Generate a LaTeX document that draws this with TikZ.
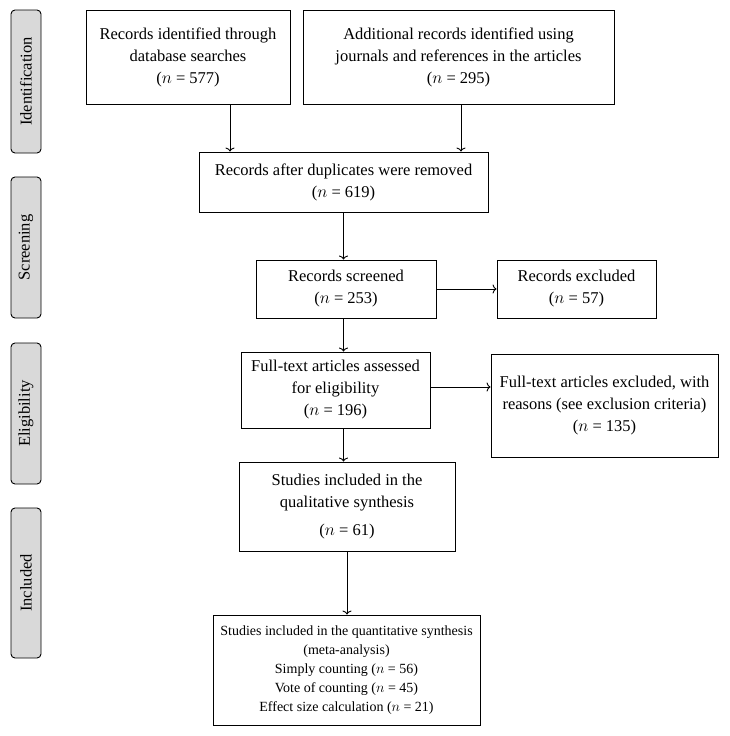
\documentclass[tikz,border=0pt]{standalone}
\usepackage{fontspec}
\setmainfont{Liberation Serif}
\usepackage{tikz}
\usetikzlibrary{arrows.meta}
\definecolor{stagegray}{RGB}{217,217,217}
\newcommand{\stageLabel}[4]{
  \node[stage, minimum width=#3] (#1) at (26,#2) {#4};
}

\begin{document}
\begin{tikzpicture}[x=1pt, y=-1pt, line width=0.9pt, font=\fontsize{16.5}{22}\selectfont,
  >={To[length=4pt,width=9pt]},
  box/.style={draw, align=center, inner sep=2pt},
  stage/.style={draw, fill=stagegray, rounded corners=4pt, rotate=90, minimum height=30pt, inner sep=0pt}]
  \useasboundingbox (0,0) rectangle (729,736);
  % Stages
  \stageLabel{ident}{81.5}{143pt}{Identification}
  \stageLabel{screen}{247.5}{141pt}{Screening}
  \stageLabel{elig}{413.5}{141pt}{Eligibility}
  \stageLabel{incl}{583}{150pt}{Included}

  % Nodes
  \node[box, minimum width=204pt, minimum height=94pt] (db) at (188,57)
    {Records identified through\\database searches\\($n$ = 577)};
  \node[box, minimum width=311pt, minimum height=94pt] (extra) at (458.5,57)
    {Additional records identified using\\journals and references in the articles\\($n$ = 295)};
  \node[box, minimum width=289pt, minimum height=60pt] (dup) at (343.5,182)
    {Records after duplicates were removed\\($n$ = 619)};
  \node[box, minimum width=180pt, minimum height=58pt] (screened) at (346,289)
    {Records screened\\($n$ = 253)};
  \node[box, minimum width=159pt, minimum height=58pt] (excl) at (576.5,289)
    {Records excluded\\($n$ = 57)};
  \node[box, minimum width=189pt, minimum height=76pt] (full) at (335.5,390)
    {Full-text articles assessed\\for eligibility\\($n$ = 196)};
  \node[box, minimum width=227pt, minimum height=103pt] (fullex) at (604.5,405.5)
    {Full-text articles excluded, with\\reasons (see exclusion criteria)\\($n$ = 135)};
  \node[box, minimum width=216pt, minimum height=89pt] (qual) at (347,506.5)
    {Studies included in the\\qualitative synthesis\\[6pt]($n$ = 61)};
  \node[box, minimum width=267pt, minimum height=110pt, font=\fontsize{14}{19}\selectfont] (quant) at (346.5,670)
    {Studies included in the quantitative synthesis\\(meta-analysis)\\Simply counting ($n$ = 56)\\Vote of counting ($n$ = 45)\\Effect size calculation ($n$ = 21)};

  % Arrows
  \draw[->] ([xshift=42pt]db.south) -- ([xshift=42pt]db.south |- dup.north);
  \draw[->] ([xshift=2.5pt]extra.south) -- ([xshift=2.5pt]extra.south |- dup.north);
  \draw[->] (dup.south) -- (dup.south |- screened.north);
  \draw[->] (screened.east) -- (excl.west);
  \draw[->] (dup.south |- screened.south) -- (dup.south |- full.north);
  \draw[->] ([yshift=3pt]full.east) -- ([yshift=3pt]full.east -| fullex.west);
  \draw[->] (dup.south |- full.south) -- (dup.south |- qual.north);
  \draw[->] (qual.south) -- (qual.south |- quant.north);
\end{tikzpicture}
\end{document}
